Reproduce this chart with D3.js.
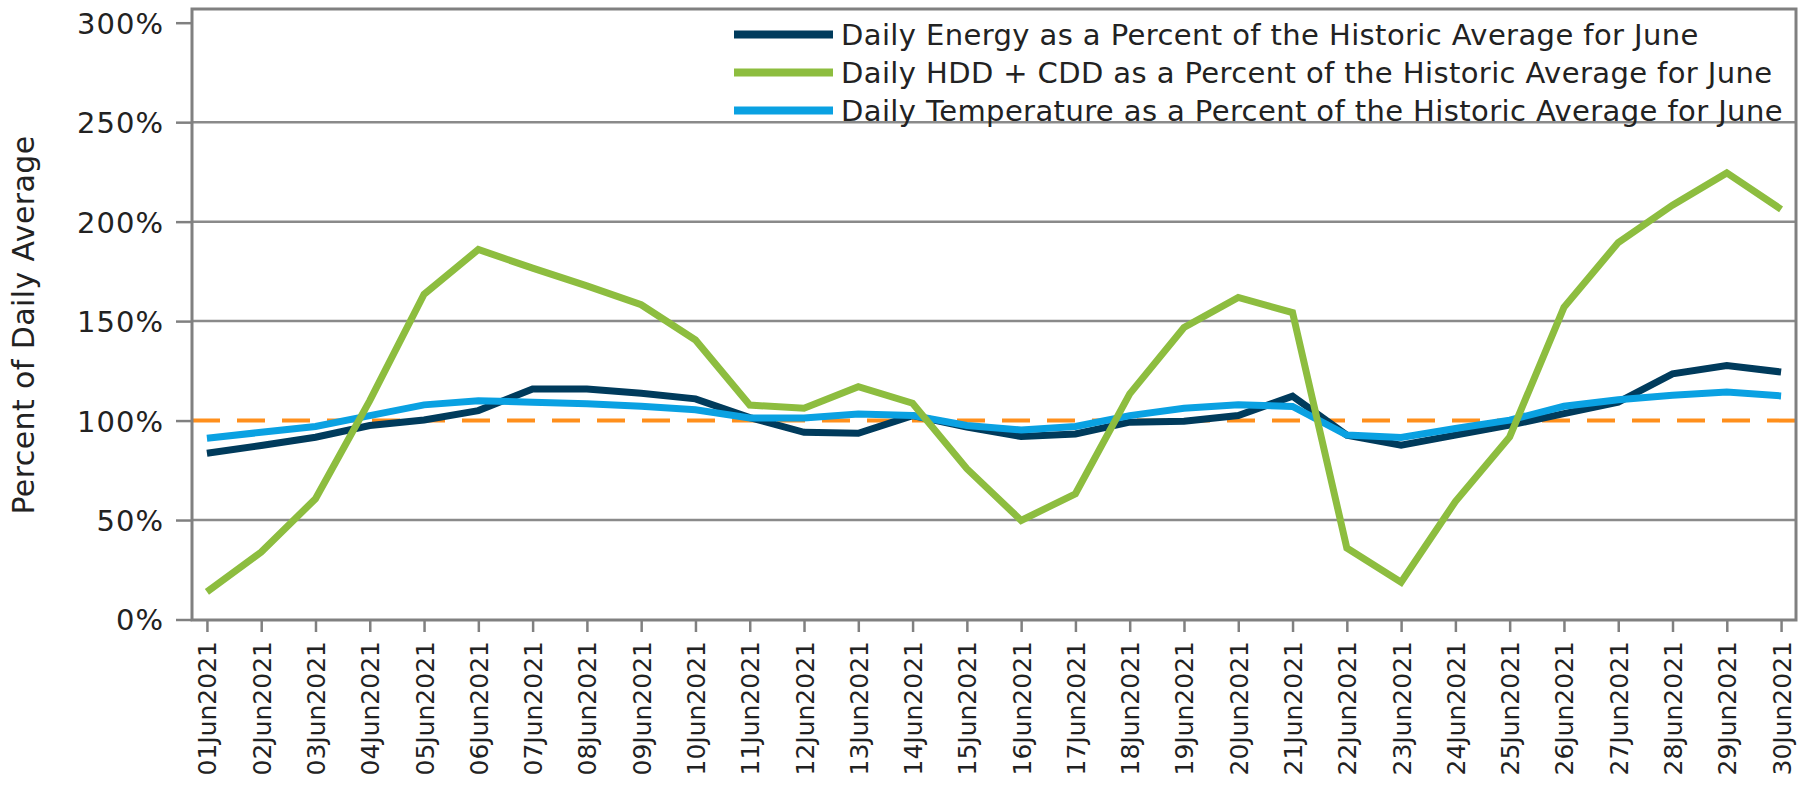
<!DOCTYPE html>
<html>
<head>
<meta charset="utf-8">
<script src="https://cdn.jsdelivr.net/npm/d3@7"></script>
<style>
  body { margin: 0; background: #fff; }
  svg text { font-family: "DejaVu Sans", sans-serif; fill: #222; }
</style>
</head>
<body>
<svg id="chart" width="1799" height="785"></svg>
<script>
const days = ["01Jun2021","02Jun2021","03Jun2021","04Jun2021","05Jun2021","06Jun2021","07Jun2021","08Jun2021","09Jun2021","10Jun2021",
              "11Jun2021","12Jun2021","13Jun2021","14Jun2021","15Jun2021","16Jun2021","17Jun2021","18Jun2021","19Jun2021","20Jun2021",
              "21Jun2021","22Jun2021","23Jun2021","24Jun2021","25Jun2021","26Jun2021","27Jun2021","28Jun2021","29Jun2021","30Jun2021"];

const energyPct = [83.6, 87.5, 91.6, 97.5, 100.3, 105, 115.9, 115.9, 113.7, 110.9,
                   101.5, 94.1, 93.6, 102.5, 96.7, 92, 93.3, 99.2, 99.7, 102.5,
                   112.3, 92.7, 87.6, 92.7, 97.7, 103.5, 109.3, 123.5, 127.7, 124.4];
const hddCddPct = [13.9, 33.9, 60.7, 110, 163.5, 186, 176.6, 167.7, 158.2, 140.5,
                   107.8, 106.2, 117, 108.7, 75.8, 49.8, 63.2, 113.4, 146.8, 161.9,
                   154.3, 35.9, 18.7, 59.3, 91.8, 156.9, 189.5, 208.3, 224.5, 206.2];
const tempPct = [91.1, 94.1, 97, 102.5, 107.9, 110, 109.2, 108.4, 107.2, 105.4,
                 101.3, 101.3, 103.3, 102.5, 97.5, 95.3, 97, 102.5, 106.2, 108,
                 107.1, 92.7, 91.5, 96, 100.2, 107.2, 110.5, 112.7, 114.4, 112.4];

const yTicks = [0, 50, 100, 150, 200, 250, 300];
const gridValues = [50, 150, 200, 250];
const referenceValue = 100;

const seriesNames = ["Daily Energy as a Percent of the Historic Average for June",
                     "Daily HDD + CDD as a Percent of the Historic Average for June",
                     "Daily Temperature as a Percent of the Historic Average for June"];
const seriesColors = ["#003b5c", "#8dbd3f", "#0aa1e2"];

const svg = d3.select("#chart");

// plot frame
const box = {left: 192, right: 1796, top: 9, bottom: 620};

const x = d3.scalePoint().domain(days).range([box.left, box.right]).padding(0.275);
const y = d3.scaleLinear().domain([0, 300]).range([619.5, 22.7]);

// gridlines
svg.append("g").selectAll("line").data(gridValues).join("line")
    .attr("x1", box.left).attr("x2", box.right)
    .attr("y1", d => y(d)).attr("y2", d => y(d))
    .attr("stroke", "#8a8a8a").attr("stroke-width", 2.5);

// reference line at 100%
svg.append("line")
    .attr("x1", box.left).attr("x2", box.right)
    .attr("y1", y(referenceValue)).attr("y2", y(referenceValue))
    .attr("stroke", "#ff8f1c").attr("stroke-width", 4)
    .attr("stroke-dasharray", "28,17");

// y axis
const yAxis = svg.append("g")
    .attr("transform", `translate(${box.left},0)`)
    .call(d3.axisLeft(y).tickValues(yTicks).tickSize(16).tickPadding(12).tickFormat(d => d + "%"));
yAxis.select(".domain").remove();
yAxis.selectAll(".tick line").attr("stroke", "#808080").attr("stroke-width", 2.5);
yAxis.selectAll(".tick text").style("font-size", "29px").style("letter-spacing", "1px").attr("dy", "0.36em");

// x axis
const xAxis = svg.append("g")
    .attr("transform", `translate(0,${box.bottom})`)
    .call(d3.axisBottom(x).tickSize(12));
xAxis.select(".domain").remove();
xAxis.selectAll(".tick line").attr("stroke", "#808080").attr("stroke-width", 2.5);
xAxis.selectAll(".tick text")
    .style("font-size", "25px")
    .attr("text-anchor", "end")
    .attr("transform", "rotate(-90)")
    .attr("x", -21).attr("y", 0).attr("dy", "0.36em");

// frame on top of grid
svg.append("rect")
    .attr("x", box.left).attr("y", box.top)
    .attr("width", box.right - box.left).attr("height", box.bottom - box.top)
    .attr("fill", "none").attr("stroke", "#808080").attr("stroke-width", 3);

// y title
svg.append("text")
    .attr("transform", "translate(34,325) rotate(-90)")
    .attr("text-anchor", "middle")
    .style("font-size", "30px")
    .style("letter-spacing", "0.4px")
    .text("Percent of Daily Average");

// lines
const line = d3.line().x((d, i) => x(days[i])).y(d => y(d));
const series = [energyPct, hddCddPct, tempPct];
const drawOrder = [0, 2, 1];
drawOrder.forEach(k => {
  svg.append("path")
      .datum(series[k])
      .attr("d", line)
      .attr("fill", "none")
      .attr("stroke", seriesColors[k])
      .attr("stroke-width", 7)
      .attr("stroke-linejoin", "miter");
});

// legend
const legend = svg.append("g").attr("transform", "translate(734,0)");
seriesNames.forEach((name, i) => {
  const base = 45 + i * 38;
  legend.append("line")
      .attr("x1", 0).attr("x2", 99)
      .attr("y1", base - 10.5).attr("y2", base - 10.5)
      .attr("stroke", seriesColors[i]).attr("stroke-width", 8);
  legend.append("text")
      .attr("x", 107).attr("y", base)
      .style("font-size", "29px")
      .style("letter-spacing", "0.4px")
      .text(name);
});
</script>
</body>
</html>
